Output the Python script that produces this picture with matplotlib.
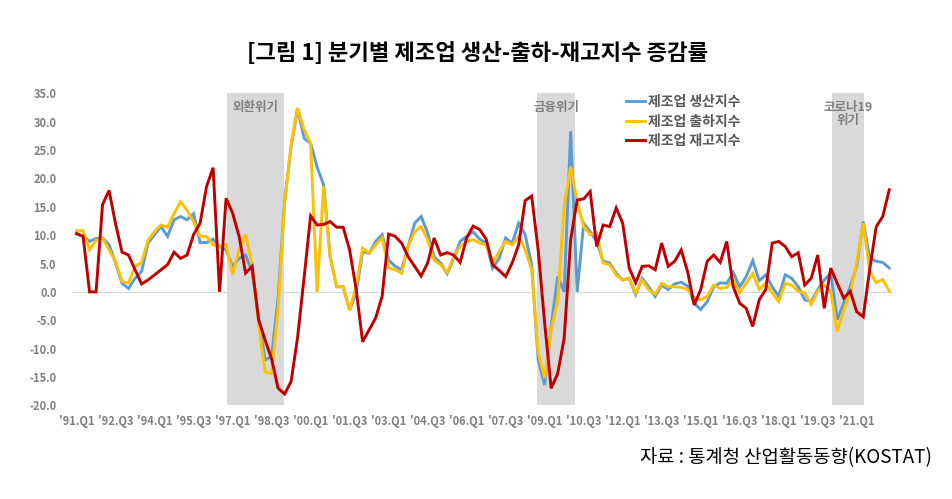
import matplotlib
matplotlib.use("Agg")
import matplotlib.pyplot as plt
import numpy as np

plt.rcParams['font.family'] = ['Noto Sans CJK KR', 'DejaVu Sans']

# 1991.Q1 ~ 2022.Q2, 분기별 증감률(%)
production = [10.2, 9.8, 8.9, 9.4, 9.5, 8.3, 5.1, 1.5, 0.6, 2.4,
              3.6, 8.6, 10.1, 11.5, 9.8, 12.7, 13.3, 12.7, 13.8, 8.7,
              8.7, 9.3, 8.0, 7.4, 4.5, 5.9, 6.5, 3.6, -4.4, -12.0,
              -11.4, -1.0, 16.0, 25.6, 32.4, 27.1, 26.2, 22.0, 18.9, 6.2,
              0.9, 0.9, -3.2, -0.2, 7.1, 6.8, 8.9, 10.1, 5.6, 4.5,
              3.9, 8.0, 12.1, 13.3, 10.4, 6.2, 5.1, 3.2, 5.9, 8.9,
              9.8, 10.6, 9.3, 8.6, 4.2, 5.9, 9.5, 8.6, 12.1, 10.1,
              4.8, -12.0, -16.4, -6.0, 2.7, 0.0, 28.3, 0.0, 12.1, 10.6,
              8.9, 5.4, 5.1, 3.3, 2.1, 2.4, -0.5, 2.4, 0.9, -0.8,
              1.2, 0.4, 1.4, 1.7, 1.0, -2.0, -3.1, -1.7, 0.9, 1.6,
              1.5, 3.4, 0.9, 2.7, 5.5, 2.0, 3.0, 0.9, -0.8, 3.0,
              2.4, 0.9, -1.4, -1.7, 0.4, 2.1, 3.3, -4.9, -2.0, 0.9,
              4.5, 12.4, 5.9, 5.4, 5.2, 4.2]

shipment = [10.8, 10.8, 7.4, 9.1, 9.5, 7.4, 5.4, 1.8, 1.6, 4.5,
            5.2, 9.1, 10.6, 11.8, 11.4, 13.8, 15.9, 14.4, 12.4, 9.8,
            9.8, 8.3, 8.0, 8.3, 3.1, 7.4, 10.1, 4.8, -5.5, -14.1,
            -14.4, -3.0, 15.6, 26.0, 32.4, 28.6, 26.2, 0.0, 18.6, 6.2,
            0.9, 0.9, -3.2, 0.9, 7.7, 6.8, 8.3, 9.5, 4.2, 3.9,
            3.3, 8.0, 10.6, 11.5, 9.2, 5.6, 4.8, 3.4, 6.2, 8.0,
            8.9, 9.2, 8.6, 8.3, 5.1, 7.1, 8.9, 8.3, 9.8, 7.4,
            3.9, -10.8, -15.2, -6.7, -1.5, 15.0, 22.1, 15.9, 11.5, 10.1,
            10.4, 5.1, 4.8, 3.0, 2.1, 2.4, -0.2, 2.1, 0.4, -0.4,
            1.5, 0.9, 0.9, 0.8, 0.4, -1.1, -1.4, -0.8, 1.2, 0.6,
            0.8, 2.1, -0.2, 1.6, 3.2, 0.4, 1.6, -0.2, -1.7, 1.5,
            1.2, 0.1, -0.2, -2.2, 0.1, 1.2, 0.1, -7.0, -3.2, -0.2,
            5.1, 12.1, 3.6, 1.6, 2.2, 0.1]

inventory = [10.3, 9.8, 0.0, 0.0, 15.4, 17.9, 12.0, 7.0, 6.5, 3.9,
             1.4, 2.1, 3.0, 3.9, 4.8, 7.0, 5.9, 6.5, 10.1, 12.1,
             18.6, 21.9, 0.0, 16.5, 13.9, 9.8, 3.3, 4.5, -4.9, -8.5,
             -11.8, -17.0, -18.0, -15.8, -8.0, 2.5, 13.4, 11.8, 11.9, 12.4,
             11.4, 11.4, 7.4, 0.5, -8.8, -6.7, -4.6, -0.8, 10.2, 9.8,
             8.6, 6.2, 4.5, 2.8, 5.1, 9.5, 6.5, 6.9, 6.5, 5.2,
             9.5, 11.6, 11.0, 9.3, 4.8, 3.8, 2.7, 5.1, 8.3, 16.1,
             16.9, 7.4, -5.5, -17.0, -14.4, -8.2, 9.2, 16.2, 16.4, 17.7,
             8.0, 11.8, 11.5, 14.8, 12.1, 4.2, 1.6, 4.5, 4.6, 3.9,
             8.6, 4.5, 5.4, 7.4, 3.5, -2.3, 0.4, 5.4, 6.5, 5.2,
             8.9, 0.9, -2.0, -2.9, -6.1, -1.4, 0.4, 8.6, 8.9, 8.0,
             6.2, 6.9, 1.2, 2.4, 6.5, -2.9, 4.2, 1.5, -1.1, 0.1,
             -3.5, -4.4, 4.0, 11.5, 13.3, 18.0]

tick_labels = ["'91.Q1", "'92.Q3", "'94.Q1", "'95.Q3", "'97.Q1", "'98.Q3",
               "'00.Q1", "'01.Q3", "'03.Q1", "'04.Q3", "'06.Q1", "'07.Q3",
               "'09.Q1", "'10.Q3", "'12.Q1", "'13.Q3", "'15.Q1", "'16.Q3",
               "'18.Q1", "'19.Q3", "'21.Q1"]

series_names = ['제조업 생산지수', '제조업 출하지수', '제조업 재고지수']
series_colors = ['#5B9BD5', '#FFC000', '#C00000']

# 위기 구간 (분기 인덱스 기준)
crises = [('외환위기', 23.1, 31.95), ('금융위기', 70.8, 76.7), ('코로나19\n위기', 116.15, 121.1)]

W, H = 952, 499
fig = plt.figure(figsize=(W / 100, H / 100), dpi=100)
ax = fig.add_axes([72 / W, 1 - 405.3 / H, (892.5 - 72) / W, (405.3 - 93.4) / H])

x = np.arange(len(production))

for name, x0, x1 in crises:
    ax.axvspan(x0, x1, ymin=0, ymax=1, color='#D9D9D9', lw=0, zorder=0)
    ax.text((x0 + x1) / 2, 33.6, name, ha='center', va='top', fontsize=9,
            fontweight='bold', color='#7F7F7F', linespacing=1.0)

ax.axhline(0, color='#D9D9D9', lw=0.8, zorder=1)

for vals, name, col in zip([production, shipment, inventory], series_names, series_colors):
    ax.plot(x, vals, color=col, lw=2.1, label=name, zorder=3, solid_joinstyle='miter')

ax.set_xlim(-0.7, 125.5)
ax.set_ylim(-20, 35)
ax.set_xticks(np.arange(0, 121, 6))
ax.set_xticklabels(tick_labels)
ax.set_yticks(np.arange(-20, 36, 5))
ax.set_yticklabels(['%.1f' % v for v in np.arange(-20, 36, 5)])
ax.tick_params(axis='both', length=0, labelsize=8, labelcolor='#7F7F7F')
ax.tick_params(axis='y', pad=11)
ax.tick_params(axis='x', pad=7)
for lab in ax.get_xticklabels() + ax.get_yticklabels():
    lab.set_fontweight('bold')
for sp in ax.spines.values():
    sp.set_visible(False)

leg = ax.legend(loc='upper left', bbox_to_anchor=(626 / W, 1 - 95 / H),
                bbox_transform=fig.transFigure, frameon=False, fontsize=10,
                handlelength=1.4, handletextpad=0.15, labelspacing=0.4,
                borderpad=0, borderaxespad=0)
for t in leg.get_texts():
    t.set_color('#595959')
    t.set_fontweight('bold')

fig.text(478 / W, 1 - 53 / H, '[그림 1] 분기별 제조업 생산-출하-재고지수 증감률',
         ha='center', va='center', fontsize=16, fontweight='bold', color='black')
fig.text(932 / W, 1 - 458 / H, '자료 : 통계청 산업활동동향(KOSTAT)',
         ha='right', va='center', fontsize=13.5, color='black')

fig.savefig('out.png', dpi=100)
